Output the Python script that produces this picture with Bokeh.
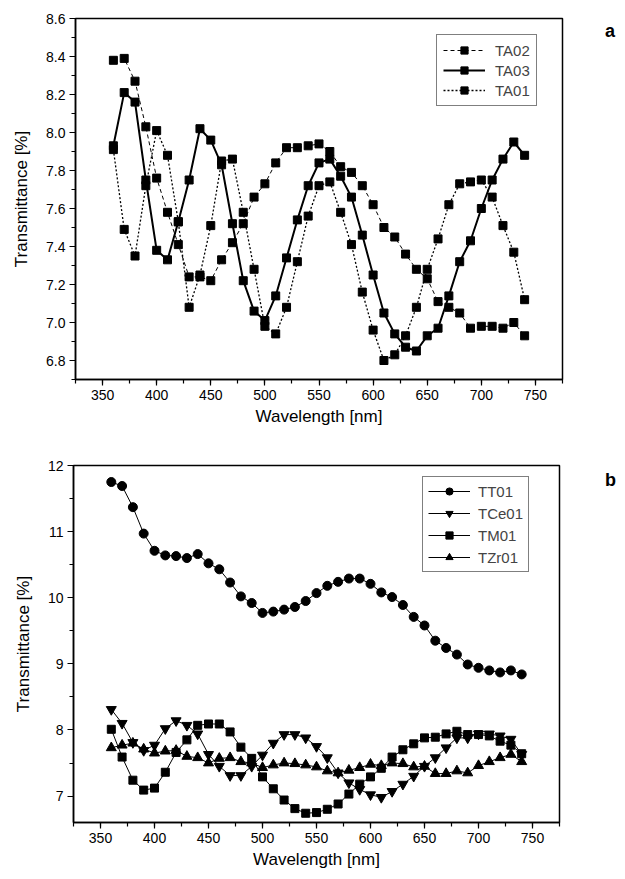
from bokeh.plotting import figure
from bokeh.models import Range1d, SingleIntervalTicker, Legend, LegendItem, Div, NumeralTickFormatter
from bokeh.layouts import column, row
from bokeh.embed import file_html
from bokeh.resources import INLINE

# ---------------- data ----------------
wavelength = list(range(360, 750, 10))  # 360 ... 740 nm

ta02 = [8.38, 8.39, 8.27, 8.03, 7.76, 7.58, 7.41, 7.24, 7.24, 7.22,
        7.33, 7.42, 7.52, 7.66, 7.73, 7.84, 7.92, 7.92, 7.93, 7.94,
        7.90, 7.82, 7.79, 7.72, 7.62, 7.50, 7.45, 7.36, 7.28, 7.23,
        7.11, 7.08, 7.05, 6.97, 6.98, 6.98, 6.97, 7.00, 6.93]
ta03 = [7.93, 8.21, 8.16, 7.75, 7.38, 7.33, 7.53, 7.75, 8.02, 7.96,
        7.83, 7.52, 7.22, 7.06, 7.01, 7.14, 7.34, 7.54, 7.72, 7.84,
        7.86, 7.77, 7.66, 7.46, 7.25, 7.05, 6.94, 6.87, 6.85, 6.93,
        6.97, 7.14, 7.32, 7.43, 7.60, 7.75, 7.86, 7.95, 7.88]
ta01 = [7.91, 7.49, 7.35, 7.72, 8.01, 7.88, 7.53, 7.08, 7.25, 7.51,
        7.85, 7.86, 7.58, 7.28, 6.98, 6.94, 7.08, 7.32, 7.56, 7.72,
        7.74, 7.58, 7.41, 7.16, 6.96, 6.80, 6.83, 6.93, 7.08, 7.28,
        7.44, 7.62, 7.73, 7.74, 7.75, 7.66, 7.51, 7.37, 7.12]

tt01 = [11.75, 11.69, 11.37, 10.97, 10.71, 10.64, 10.63, 10.60, 10.66, 10.52,
        10.43, 10.23, 10.02, 9.92, 9.77, 9.79, 9.82, 9.86, 9.95, 10.07,
        10.18, 10.24, 10.29, 10.29, 10.21, 10.08, 10.01, 9.89, 9.71, 9.58,
        9.35, 9.24, 9.14, 8.99, 8.94, 8.90, 8.87, 8.90, 8.84]
tce01 = [8.31, 8.10, 7.81, 7.69, 7.77, 8.02, 8.14, 8.07, 7.94, 7.63,
         7.45, 7.31, 7.31, 7.45, 7.62, 7.80, 7.93, 7.93, 7.88, 7.75,
         7.58, 7.35, 7.20, 7.10, 7.02, 6.98, 7.07, 7.18, 7.30, 7.45,
         7.58, 7.73, 7.88, 7.88, 7.94, 7.94, 7.91, 7.86, 7.63]
tm01 = [8.01, 7.59, 7.24, 7.09, 7.12, 7.36, 7.66, 7.85, 8.07, 8.09,
        8.09, 7.97, 7.74, 7.57, 7.29, 7.11, 6.94, 6.81, 6.74, 6.75,
        6.80, 6.88, 7.03, 7.18, 7.29, 7.42, 7.59, 7.70, 7.79, 7.88,
        7.89, 7.94, 7.98, 7.93, 7.93, 7.91, 7.83, 7.77, 7.64]
tzr01 = [7.73, 7.77, 7.80, 7.71, 7.65, 7.68, 7.69, 7.60, 7.58, 7.50,
         7.57, 7.58, 7.52, 7.50, 7.43, 7.47, 7.50, 7.49, 7.47, 7.44,
         7.38, 7.35, 7.39, 7.43, 7.48, 7.46, 7.50, 7.49, 7.44, 7.45,
         7.34, 7.34, 7.38, 7.35, 7.46, 7.52, 7.58, 7.63, 7.52]

x_label = "Wavelength [nm]"
y_label = "Transmittance [%]"
top_names = ["TA02", "TA03", "TA01"]
bottom_names = ["TT01", "TCe01", "TM01", "TZr01"]
panel_letters = ["a", "b"]

FONT = "Liberation Sans"


def style(p, y_interval):
    p.xaxis.ticker = SingleIntervalTicker(interval=50, num_minor_ticks=2)
    p.yaxis.ticker = SingleIntervalTicker(interval=y_interval, num_minor_ticks=2)
    p.xgrid.visible = False
    p.ygrid.visible = False
    p.outline_line_color = "black"
    p.outline_line_width = 1.5
    p.background_fill_color = "white"
    p.border_fill_color = "white"
    for ax in (p.xaxis[0], p.yaxis[0]):
        ax.axis_line_width = 1.5
        ax.axis_line_color = "black"
        ax.major_tick_line_color = "black"
        ax.minor_tick_line_color = "black"
        ax.major_tick_line_width = 1.2
        ax.minor_tick_line_width = 1.2
        ax.major_tick_in = 0
        ax.major_tick_out = 6
        ax.minor_tick_in = 0
        ax.minor_tick_out = 4
        ax.major_label_text_font = FONT
        ax.major_label_text_font_size = "14px"
        ax.major_label_text_color = "black"
        ax.axis_label_text_font = FONT
        ax.axis_label_text_font_size = "17px"
        ax.axis_label_text_font_style = "normal"
        ax.axis_label_text_color = "black"
        ax.major_label_standoff = 4
    p.xaxis.axis_label = x_label
    p.yaxis.axis_label = y_label
    p.xaxis.axis_label_standoff = 4
    p.yaxis.axis_label_standoff = 12


def letter(txt, pad_top):
    return Div(text=txt, width=30, height=pad_top + 24, margin=0,
               styles={"font-family": FONT, "font-size": "18px",
                       "font-weight": "bold", "line-height": "18px",
                       "padding-left": "10px", "padding-top": "%dpx" % pad_top,
                       "color": "black"})


# ---------------- top panel ----------------
p1 = figure(width=595, height=430, output_backend="svg", toolbar_location=None,
            x_range=Range1d(325, 775), y_range=Range1d(6.7, 8.6),
            min_border_left=75, min_border_right=33, min_border_top=18,
            min_border_bottom=51)
style(p1, 0.2)
p1.yaxis.formatter = NumeralTickFormatter(format="0.0")

top_series = [ta02, ta03, ta01]
top_dash = ["4 3", "solid", "2 2"]
top_width = [1.0, 2.0, 1.3]
items = []
for name, ys, dash, lw in zip(top_names, top_series, top_dash, top_width):
    lr = p1.line(wavelength, ys, line_color="black", line_width=lw, line_dash=dash)
    sr = p1.scatter(wavelength, ys, marker="square", size=8,
                    fill_color="black", line_color="black")
    items.append(LegendItem(label=name, renderers=[lr, sr]))

leg1 = Legend(items=items, location=(361, 273), orientation="vertical",
              border_line_color="black", border_line_width=1,
              background_fill_color="white", background_fill_alpha=1,
              label_text_font=FONT, label_text_font_size="15px",
              glyph_width=42, glyph_height=18, label_height=18,
              spacing=2, padding=6, label_standoff=10, margin=0)
p1.add_layout(leg1, "center")

# ---------------- bottom panel ----------------
p2 = figure(width=595, height=441, output_backend="svg", toolbar_location=None,
            x_range=Range1d(325, 775), y_range=Range1d(6.6, 12),
            min_border_left=73, min_border_right=36, min_border_top=35,
            min_border_bottom=46)
style(p2, 1)

bottom_series = [tt01, tce01, tm01, tzr01]
bottom_markers = ["circle", "inverted_triangle", "square", "triangle"]
bottom_sizes = [9, 10, 8, 10]
items2 = []
for name, ys, mk, sz in zip(bottom_names, bottom_series, bottom_markers, bottom_sizes):
    lr = p2.line(wavelength, ys, line_color="black", line_width=1)
    sr = p2.scatter(wavelength, ys, marker=mk, size=sz,
                    fill_color="black", line_color="black")
    items2.append(LegendItem(label=name, renderers=[lr, sr]))

leg2 = Legend(items=items2, location=(349, 250), orientation="vertical",
              border_line_color="black", border_line_width=1,
              background_fill_color="white", background_fill_alpha=1,
              label_text_font=FONT, label_text_font_size="15px",
              glyph_width=42, glyph_height=18, label_height=18,
              spacing=4, padding=5, label_standoff=8, margin=0)
p2.add_layout(leg2, "center")

layout = column(row(p1, letter(panel_letters[0], 22), spacing=0),
                row(p2, letter(panel_letters[1], 41), spacing=0),
                spacing=0)
open("out.html", "w").write(file_html(layout, INLINE))
